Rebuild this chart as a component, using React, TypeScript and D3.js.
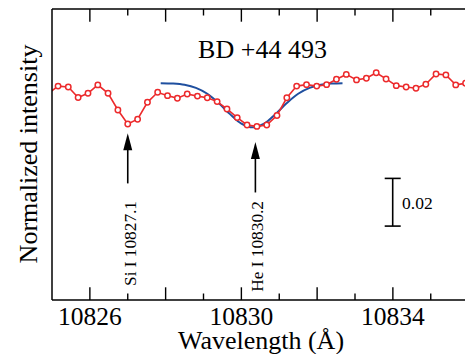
import React from "react";
import * as d3 from "d3";

const wavelengths = [
  10824.90, 10825.16, 10825.43, 10825.69, 10825.95, 10826.21, 10826.48, 10826.74,
  10827.00, 10827.26, 10827.52, 10827.79, 10828.05, 10828.31, 10828.57, 10828.84,
  10829.10, 10829.36, 10829.62, 10829.89, 10830.15, 10830.41, 10830.67, 10830.94,
  10831.20, 10831.46, 10831.72, 10831.99, 10832.25, 10832.51, 10832.77, 10833.04,
  10833.30, 10833.56, 10833.82, 10834.09, 10834.35, 10834.61, 10834.87, 10835.14,
  10835.40, 10835.66, 10835.92,
];
const observed = [
  0.9956, 0.9987, 0.9983, 0.9939, 0.9957, 0.9992, 0.9957, 0.9887,
  0.9828, 0.9848, 0.9919, 0.9961, 0.9947, 0.9936, 0.9954, 0.9945,
  0.9938, 0.9922, 0.9891, 0.9855, 0.9824, 0.9818, 0.9824, 0.9864,
  0.9938, 0.9987, 0.9993, 0.9987, 0.9993, 1.0016, 1.0036, 1.0013,
  1.0020, 1.0043, 1.0017, 0.9989, 0.9983, 0.9978, 0.9995, 1.0038,
  1.0034, 0.9992, 0.9999,
];
const fitWavelengths = [
  10827.87, 10828.2, 10828.5, 10828.8, 10829.1, 10829.4, 10829.7, 10830.0,
  10830.3, 10830.6, 10830.9, 10831.2, 10831.5, 10831.8, 10832.1, 10832.4, 10832.67,
];
const fitValues = [
  0.99994, 0.99976, 0.99923, 0.99796, 0.99549, 0.99161, 0.98695, 0.98298,
  0.9814, 0.98298, 0.98695, 0.99161, 0.99549, 0.99796, 0.99923, 0.99976, 0.99994,
];
const majorTicks = [10826, 10828, 10830, 10832, 10834];
const minorTicks = [10827, 10829, 10831, 10833, 10835];
const tickLabels = [10826, 10830, 10834];
const lines = [
  { label: "Si I 10827.1", wl: 10827.0, tip: 0.9789, tail: 0.9579 },
  { label: "He I 10830.2", wl: 10830.37, tip: 0.9753, tail: 0.9541 },
];
const scaleBar = { value: 0.02, top: 0.96 };
const title = "BD +44 493";

const W = 465;
const H = 354;
const left = 52;
const top = 9;
const bottom = 300;
const right = 52 + 11 * 37.875;

export default function App() {
  const x = d3.scaleLinear().domain([10825, 10836]).range([left, right]);
  const y = d3.scaleLinear().domain([0.90901, 1.03103]).range([bottom, top]);
  const obs = wavelengths.map((w, i) => [w, observed[i]] as [number, number]);
  const fit = fitWavelengths.map((w, i) => [w, fitValues[i]] as [number, number]);
  const lineGen = d3.line<[number, number]>().x((d) => x(d[0])).y((d) => y(d[1]));
  const fitGen = d3
    .line<[number, number]>()
    .x((d) => x(d[0]))
    .y((d) => y(d[1]))
    .curve(d3.curveCatmullRom);
  const red = "#ec2a2c";
  const blue = "#1f4f9f";
  const font = "'Liberation Serif', 'Times New Roman', serif";
  const barX = 392.7;
  return (
    <svg
      width={W}
      height={H}
      style={{ position: "absolute", left: 0, top: 0, background: "#fff" }}
      fontFamily={font}
    >
      <defs>
        <clipPath id="plot">
          <rect x={left} y={top} width={right - left} height={bottom - top} />
        </clipPath>
      </defs>
      <rect width={W} height={H} fill="#fff" />
      <g clipPath="url(#plot)">
        <path d={fitGen(fit) || ""} fill="none" stroke={blue} strokeWidth={2} />
        <path d={lineGen(obs) || ""} fill="none" stroke={red} strokeWidth={1.6} />
        {obs.map((d, i) => (
          <circle
            key={i}
            cx={x(d[0])}
            cy={y(d[1])}
            r={2.7}
            fill="#fff"
            stroke={red}
            strokeWidth={1.5}
          />
        ))}
      </g>
      {/* axes */}
      <line x1={left} x2={left} y1={top} y2={bottom} stroke="#000" strokeWidth={1.5} />
      <line x1={left} x2={right} y1={top} y2={top} stroke="#000" strokeWidth={1.5} />
      <line x1={left} x2={right} y1={bottom} y2={bottom} stroke="#000" strokeWidth={1.5} />
      {majorTicks.map((t) => (
        <g key={"M" + t}>
          <line x1={x(t)} x2={x(t)} y1={bottom} y2={bottom - 12.7} stroke="#000" strokeWidth={1.4} />
          <line x1={x(t)} x2={x(t)} y1={top} y2={top + 12.7} stroke="#000" strokeWidth={1.4} />
        </g>
      ))}
      {minorTicks.map((t) => (
        <g key={"m" + t}>
          <line x1={x(t)} x2={x(t)} y1={bottom} y2={bottom - 6.5} stroke="#000" strokeWidth={1.4} />
          <line x1={x(t)} x2={x(t)} y1={top} y2={top + 6.5} stroke="#000" strokeWidth={1.4} />
        </g>
      ))}
      {tickLabels.map((t) => (
        <text key={"l" + t} x={x(t)} y={325} fontSize={25.5} textAnchor="middle" fill="#000">
          {t}
        </text>
      ))}
      <text x={261} y={349} fontSize={26} textAnchor="middle" fill="#000">
        Wavelength (Å)
      </text>
      <text
        transform="translate(36.5,154) rotate(-90)"
        fontSize={26}
        textAnchor="middle"
        fill="#000"
      >
        Normalized intensity
      </text>
      <text x={262.5} y={58} fontSize={26} textAnchor="middle" fill="#000">
        {title}
      </text>
      {/* line identification arrows */}
      {lines.map((l) => {
        const ax = x(l.wl);
        const yt = y(l.tip);
        const yb = y(l.tail);
        return (
          <g key={l.label}>
            <line x1={ax} x2={ax} y1={yt + 10} y2={yb} stroke="#000" strokeWidth={1.6} />
            <path
              d={`M${ax},${yt} L${ax - 4.5},${yt + 17} L${ax + 4.5},${yt + 17} Z`}
              fill="#000"
            />
            <text
              transform={`translate(${ax + 8},${201}) rotate(-90)`}
              fontSize={17.3}
              textAnchor="end"
              fill="#000"
            >
              {l.label}
            </text>
          </g>
        );
      })}
      {/* scale bar */}
      <g>
        <line x1={barX} x2={barX} y1={y(scaleBar.top)} y2={y(scaleBar.top - scaleBar.value)} stroke="#000" strokeWidth={1.6} />
        <line x1={barX - 8} x2={barX + 8} y1={y(scaleBar.top)} y2={y(scaleBar.top)} stroke="#000" strokeWidth={1.6} />
        <line
          x1={barX - 8}
          x2={barX + 8}
          y1={y(scaleBar.top - scaleBar.value)}
          y2={y(scaleBar.top - scaleBar.value)}
          stroke="#000"
          strokeWidth={1.6}
        />
        <text x={402} y={209} fontSize={17.5} fill="#000">
          {scaleBar.value.toFixed(2)}
        </text>
      </g>
    </svg>
  );
}
